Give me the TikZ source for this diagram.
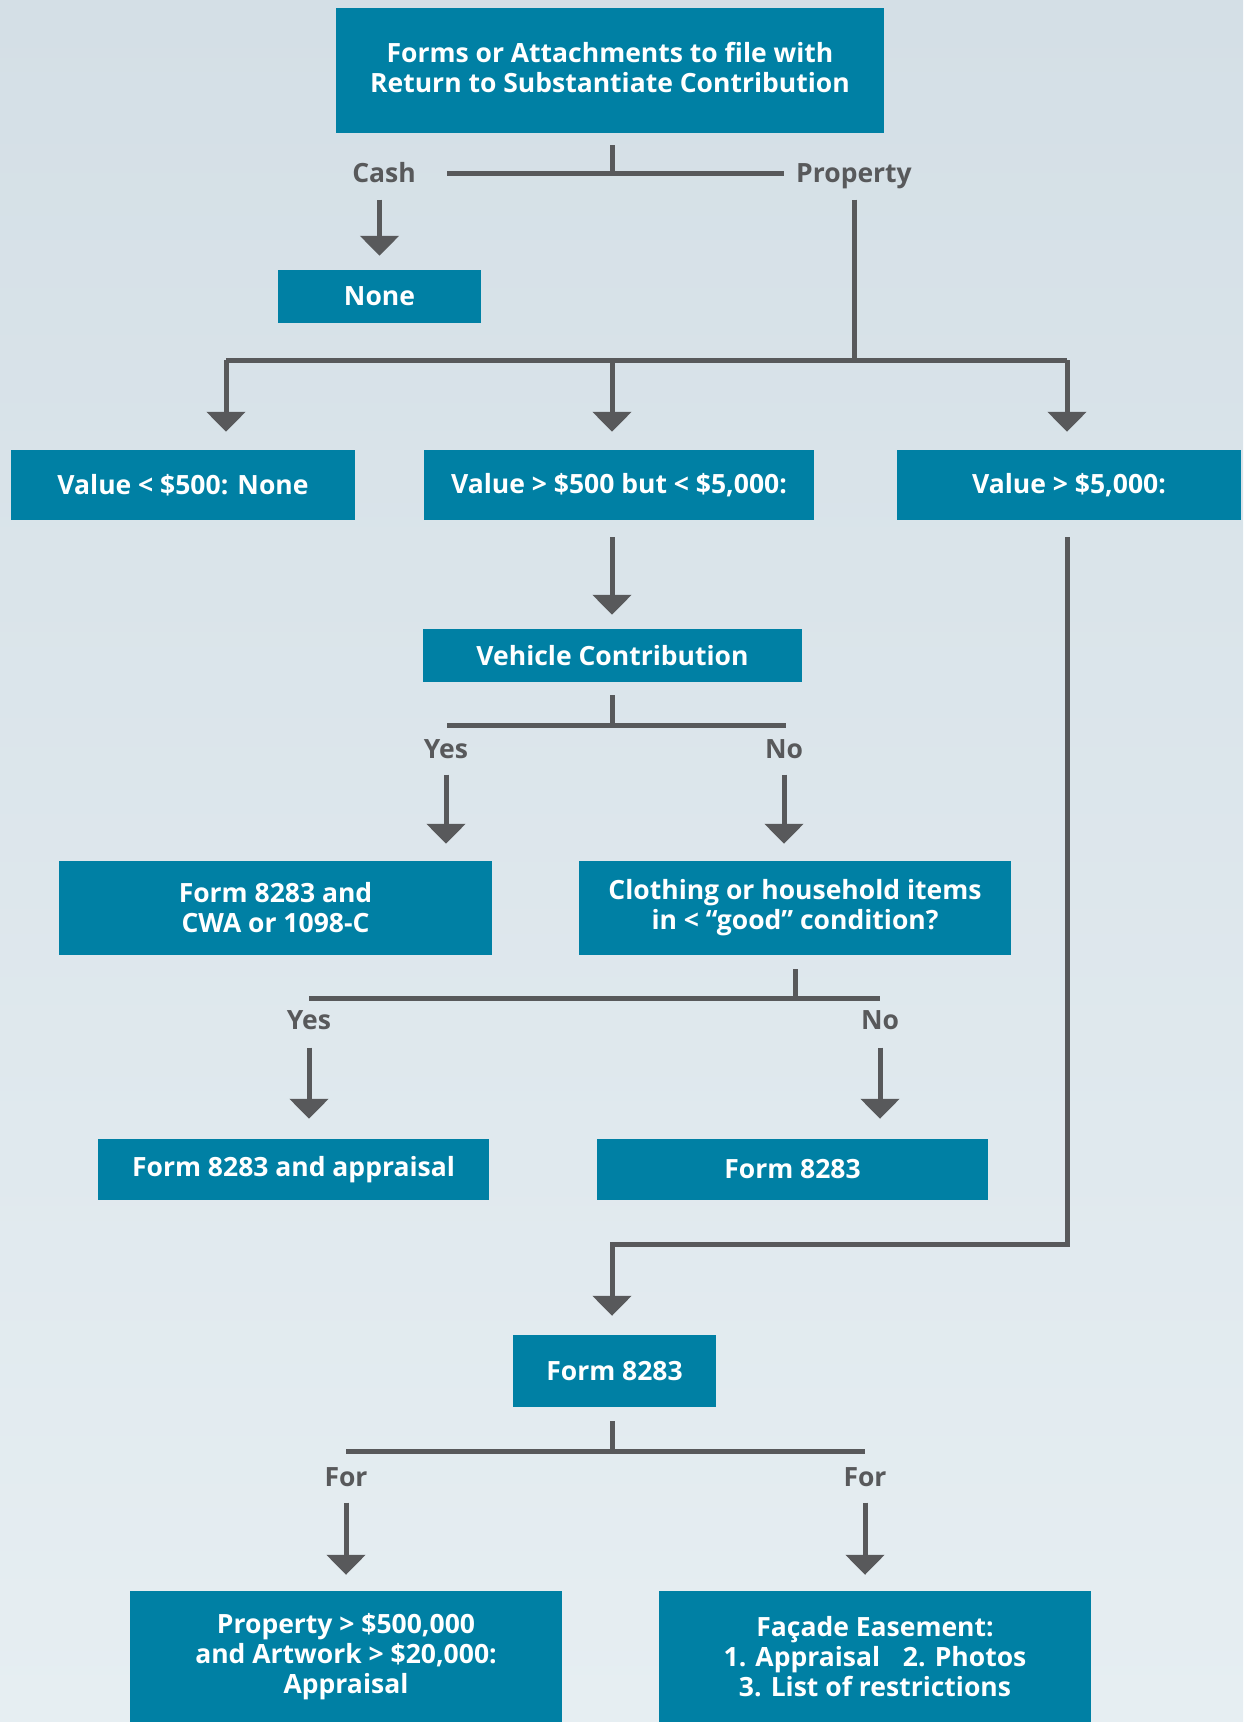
\documentclass[tikz,border=0pt]{standalone}
\usepackage{fontspec}
\setmainfont{Open Sans}
\usetikzlibrary{arrows.meta}
\definecolor{teal0}{HTML}{0080A4}
\definecolor{grey0}{HTML}{58595B}
\definecolor{bgA}{HTML}{D4DFE6}
\definecolor{bgB}{HTML}{E6EEF2}
\tikzset{
  bx/.style={fill=teal0,text=white,font=\fontsize{26.5}{30}\selectfont\bfseries,align=center,inner sep=0pt},
  lb/.style={text=grey0,font=\fontsize{26.5}{30}\selectfont\bfseries,inner sep=2pt,text height=19pt,text depth=0pt},
  ln/.style={draw=grey0,line width=5pt},
  ar/.style={ln,-{Triangle[width=38pt,length=20pt]}}
}

\begin{document}
\begin{tikzpicture}[x=1pt,y=-1pt]
\shade[top color=bgA,bottom color=bgB] (0,0) rectangle (1243,1722);
\useasboundingbox (0,0) rectangle (1243,1722);
% boxes
\node[bx,minimum width=548pt,minimum height=125pt] (top) at (610,70.5) {Forms or Attachments to file with\\Return to Substantiate Contribution\\[-23pt]};
\node[bx,minimum width=203pt,minimum height=53pt] (none) at (379.5,296.5) {None};
\node[bx,minimum width=344pt,minimum height=70pt] (v1) at (183,485) {Value < \$500: None};
\node[bx,minimum width=390pt,minimum height=70pt] (v2) at (619,485) {Value > \$500 but < \$5,000:};
\node[bx,minimum width=344pt,minimum height=70pt] (v3) at (1069,485) {Value > \$5,000:};
\node[bx,minimum width=379pt,minimum height=53pt] (veh) at (612.5,655.5) {Vehicle Contribution};
\node[bx,minimum width=433pt,minimum height=94pt] (cwa) at (275.5,908) {Form 8283 and\\CWA or 1098-C};
\node[bx,minimum width=432pt,minimum height=94pt] (cloth) at (795,908) {Clothing or household items\\in < “good” condition?};
\node[bx,minimum width=391pt,minimum height=61pt] (appr) at (293.5,1169.5) {Form 8283 and appraisal};
\node[bx,minimum width=391pt,minimum height=61pt] (f2) at (792.5,1169.5) {Form 8283};
\node[bx,minimum width=203pt,minimum height=72pt] (f3) at (614.5,1371) {Form 8283};
\node[bx,minimum width=432pt,minimum height=131pt] (prop) at (346,1656.5) {Property > \$500,000\\and Artwork > \$20,000:\\Appraisal};
\node[bx,minimum width=432pt,minimum height=131pt] (fac) at (875,1656.5) {Façade Easement:\\1. Appraisal\hspace{0.6em} 2. Photos\\3. List of restrictions};
% labels
\node[lb] (cash) at (384,173) {Cash};
\node[lb] (prp) at (854,173) {Property};
\node[lb] (y3) at (446,749) {Yes};
\node[lb] (n3) at (784,749) {No};
\node[lb] (y4) at (309,1020) {Yes};
\node[lb] (n4) at (880,1020) {No};
\node[lb] (fl) at (346,1477) {For};
\node[lb] (fr) at (865,1477) {For};
% junctions
\coordinate (b1l) at (447,173); \coordinate (b1r) at (784,173);
\coordinate (b2l) at (226,360); \coordinate (b2m) at (612,360); \coordinate (b2r) at (1067,360);
\coordinate (b3l) at (447,725); \coordinate (b3r) at (786,725);
\coordinate (b4l) at (309,998); \coordinate (b4r) at (880,998);
\coordinate (k1) at (1067,1244); \coordinate (k2) at (612,1244);
\coordinate (b5l) at (346,1451); \coordinate (b5r) at (865,1451);
% top split
\draw[ln] ([yshift=-12pt]top.south -| b2m) -- (b2m |- b1l);
\draw[ln] (b1l) -- (b1r);
\draw[ar] ([yshift=-15pt]none.north |- cash.south) -- ([yshift=14pt]none.north);
\draw[ln] ([yshift=-15pt]prp.south) -- (prp.south |- b2l);
% value rows
\draw[ln] (b2l) -- (b2r);
\draw[ar] (b2l) -- ([yshift=18pt]b2l |- v1.north);
\draw[ar] (b2m) -- ([yshift=18pt]b2m |- v2.north);
\draw[ar] (b2r) -- ([yshift=18pt]b2r |- v3.north);
\draw[ar] ([yshift=-17pt]b2m |- v2.south) -- ([yshift=14pt]b2m |- veh.north);
% vehicle split
\draw[ln] ([yshift=-13pt]b2m |- veh.south) -- (b2m |- b3l);
\draw[ln] (b3l) -- (b3r);
\draw[ar] ([yshift=-14pt]y3.south) -- ([yshift=17pt]y3.south |- cwa.north);
\draw[ar] ([yshift=-14pt]n3.south) -- ([yshift=17pt]n3.south |- cloth.north);
% clothing split
\draw[ln] ([yshift=-14pt]cloth.south) -- (cloth.south |- b4l);
\draw[ln] (b4l) -- (b4r);
\draw[ar] ([yshift=-16pt]y4.south) -- ([yshift=20pt]y4.south |- appr.north);
\draw[ar] ([yshift=-16pt]n4.south) -- ([yshift=20pt]n4.south |- f2.north);
% over 5000
\draw[ar] ([yshift=-17pt]b2r |- v3.south) -- (k1) -- (k2) -- ([yshift=19pt]k2 |- f3.north);
% form 8283 split
\draw[ln] ([yshift=-14pt]k2 |- f3.south) -- (k2 |- b5l);
\draw[ln] (b5l) -- (b5r);
\draw[ar] ([yshift=-14pt]fl.south) -- ([yshift=16pt]fl.south |- prop.north);
\draw[ar] ([yshift=-14pt]fr.south) -- ([yshift=16pt]fr.south |- fac.north);
\end{tikzpicture}
\end{document}
